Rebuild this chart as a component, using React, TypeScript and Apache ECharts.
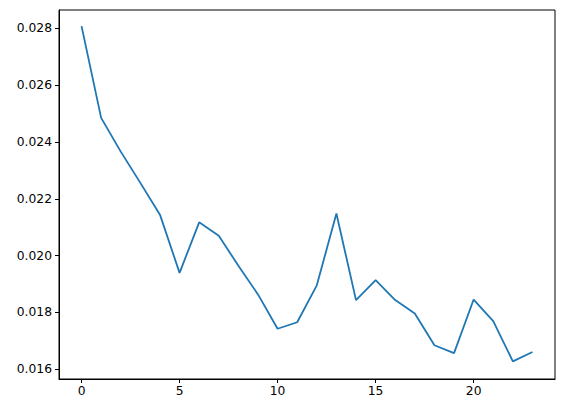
import React, { useEffect, useRef } from "react";
import * as echarts from "echarts";

// values, one per step (x = 0..23)
const lossValues = [
  0.02808, 0.02485, 0.02366, 0.02256, 0.02144, 0.01939, 0.02117, 0.0207,
  0.01964, 0.01863, 0.01742, 0.01765, 0.01895, 0.02148, 0.01843, 0.01913,
  0.01843, 0.01796, 0.01684, 0.01656, 0.01845, 0.01769, 0.01627, 0.0166,
];
const xTicks = [0, 5, 10, 15, 20];
const yTicks = [0.016, 0.018, 0.02, 0.022, 0.024, 0.026, 0.028];

const App: React.FC = () => {
  const chartRef = useRef<HTMLDivElement>(null);

  useEffect(() => {
    document.body.style.margin = "0";
    if (!chartRef.current) return;

    const chart = echarts.init(chartRef.current, undefined, { renderer: "svg" });
    const font = "DejaVu Sans";

    chart.setOption({
      animation: false,
      backgroundColor: "#fff",
      grid: {
        left: 59,
        right: 10,
        top: 10,
        bottom: 34,
        show: true,
        borderColor: "#000",
        borderWidth: 1,
      },
      xAxis: {
        type: "value",
        min: -1.15,
        max: 24.15,
        splitLine: { show: false },
        axisLine: { show: true, onZero: false, lineStyle: { color: "#000", width: 1 } },
        axisTick: {
          show: true,
          length: 4,
          lineStyle: { color: "#000", width: 1 },
          customValues: xTicks,
        },
        axisLabel: {
          color: "#000",
          fontFamily: font,
          fontSize: 12.3,
          margin: 6,
          customValues: xTicks,
          formatter: (v: number) => String(v),
        },
      },
      yAxis: {
        type: "value",
        min: 0.01565,
        max: 0.02865,
        splitLine: { show: false },
        axisLine: { show: true, onZero: false, lineStyle: { color: "#000", width: 1 } },
        axisTick: {
          show: true,
          length: 4,
          lineStyle: { color: "#000", width: 1 },
          customValues: yTicks,
        },
        axisLabel: {
          color: "#000",
          fontFamily: font,
          fontSize: 12.3,
          margin: 7,
          customValues: yTicks,
          formatter: (v: number) => v.toFixed(3),
        },
      },
      series: [
        {
          type: "line",
          data: lossValues.map((v, i) => [i, v]),
          showSymbol: false,
          lineStyle: { color: "#1f77b4", width: 1.8 },
        },
      ],
    });

    return () => {
      chart.dispose();
    };
  }, []);

  return <div ref={chartRef} style={{ width: "565px", height: "413px" }} />;
};

export default App;
